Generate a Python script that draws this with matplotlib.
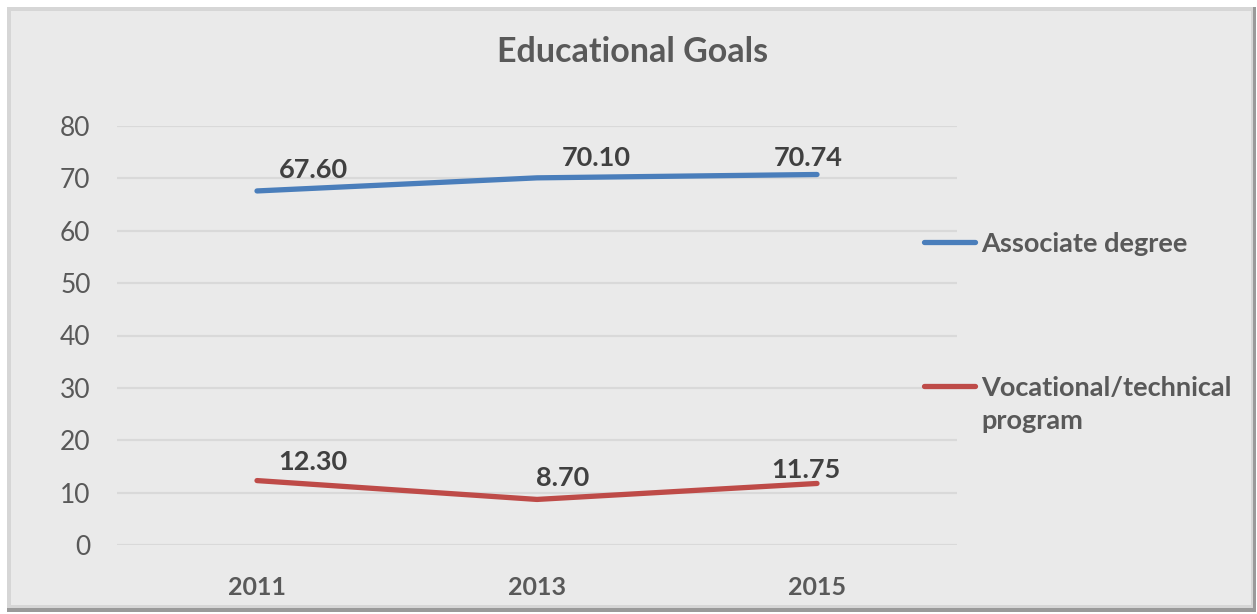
import matplotlib
matplotlib.use("Agg")
import matplotlib.pyplot as plt
from matplotlib.patches import Rectangle
from matplotlib.lines import Line2D

years = ["2011", "2013", "2015"]
associate = [67.60, 70.10, 70.74]
vocational = [12.30, 8.70, 11.75]
series_names = ["Associate degree", "Vocational/technical\nprogram"]

W, H = 1257, 614
FONT = ["Lato", "DejaVu Sans"]
blue = "#4A7EBB"
red = "#BE4B48"
grey_txt = "#595959"
dark_txt = "#404040"

fig = plt.figure(figsize=(W / 100, H / 100), dpi=100)
fig.patch.set_facecolor("white")

def box(x0, y0, x1, y1, **kw):
    # rectangle given in pixels measured from the top-left corner
    fig.patches.append(Rectangle((x0 / W, 1 - y1 / H), (x1 - x0) / W, (y1 - y0) / H,
                                 transform=fig.transFigure, figure=fig, zorder=-5, **kw))

# chart frame with a soft bevel / shadow
box(7, 7, 1256, 612, facecolor="#9A9A9A", edgecolor="none")
box(7, 7, 1253, 608, facecolor="#D6D6D6", edgecolor="none")
box(11, 11, 1251, 605, facecolor="#EAEAEA", edgecolor="none")

ax = fig.add_axes([117 / W, 1 - 545 / H, 840 / W, 419 / H])
ax.set_facecolor("none")
x = [i + 0.5 for i in range(len(years))]

ax.plot(x, associate, color=blue, lw=3.8, solid_capstyle="round", zorder=3)
ax.plot(x, vocational, color=red, lw=3.8, solid_capstyle="round", zorder=3)

# data labels, nudged by hand
assoc_off = [(0.20, 3.95), (0.21, 3.75), (-0.03, 3.1)]
voc_off = [(0.20, 3.55), (0.09, 4.1), (-0.04, 2.55)]
for vals, offs in [(associate, assoc_off), (vocational, voc_off)]:
    for xi, v, (dx, dy) in zip(x, vals, offs):
        ax.text(xi + dx, v + dy, f"{v:.2f}", ha="center", va="center",
                fontsize=19.5, fontweight="bold", color=dark_txt, family=FONT, zorder=4)

ax.set_xlim(0, 3)
ax.set_ylim(0, 80)
ax.set_yticks(range(0, 81, 10))
ax.set_xticks(x)
ax.set_xticklabels(years)
ax.grid(axis="y", color="#D9D9D9", lw=1.6)
ax.set_axisbelow(True)
for s in ax.spines.values():
    s.set_visible(False)
ax.tick_params(length=0)
ax.tick_params(axis="y", pad=19, labelsize=19, labelcolor=grey_txt)
ax.tick_params(axis="x", pad=22, labelsize=18)
for t in ax.get_yticklabels():
    t.set_family(FONT)
for t in ax.get_xticklabels():
    t.set_family(FONT)
    t.set_fontweight("bold")
    t.set_color(grey_txt)

fig.text(633 / W, 1 - 52 / H, "Educational Goals", ha="center", va="center",
         fontsize=24.5, fontweight="bold", color=grey_txt, family=FONT)

# legend on the right
for name, col, ly in zip(series_names, [blue, red], [242, 386]):
    fig.lines.append(Line2D([924 / W, 975 / W], [1 - ly / H] * 2, transform=fig.transFigure,
                            color=col, lw=3.8, solid_capstyle="round"))
    fig.text(981 / W, 1 - (ly - 10) / H, name, ha="left", va="top", linespacing=1.45,
             fontsize=19.5, fontweight="bold", color=grey_txt, family=FONT)

fig.savefig("out.png", dpi=100, facecolor=fig.get_facecolor())
